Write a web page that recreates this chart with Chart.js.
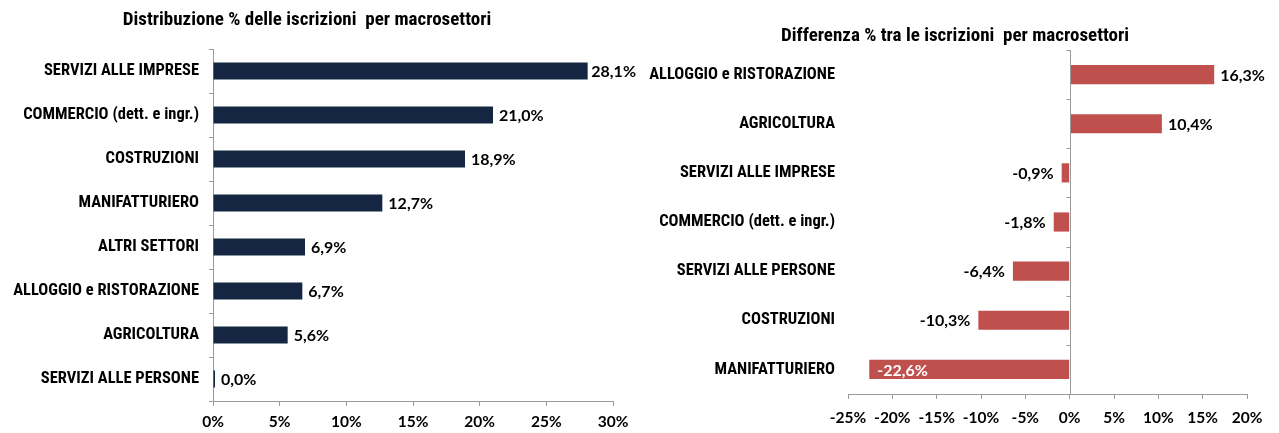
<!DOCTYPE html>
<html><head><meta charset="utf-8">
<script src="https://cdn.jsdelivr.net/npm/chart.js@4.4.1/dist/chart.umd.min.js"></script>
<style>
html,body{margin:0;padding:0;background:#fff;width:1279px;height:433px;overflow:hidden}
.box{position:absolute;top:0;height:433px}
#b1{left:0;width:640px}
#b2{left:640px;width:639px}
</style></head><body>
<div class="box" id="b1"><canvas id="c1"></canvas></div>
<div class="box" id="b2"><canvas id="c2"></canvas></div>
<script>
const leftTitle = "Distribuzione % delle iscrizioni  per macrosettori";
const leftCategories = ["SERVIZI ALLE IMPRESE","COMMERCIO (dett. e ingr.)","COSTRUZIONI","MANIFATTURIERO","ALTRI SETTORI","ALLOGGIO e RISTORAZIONE","AGRICOLTURA","SERVIZI ALLE PERSONE"];
const leftValues = [28.1, 21.0, 18.9, 12.7, 6.9, 6.7, 5.6, 0.0];
const leftAxis = {min:0, max:30, step:5};

const rightTitle = "Differenza % tra le iscrizioni  per macrosettori";
const rightCategories = ["ALLOGGIO e RISTORAZIONE","AGRICOLTURA","SERVIZI ALLE IMPRESE","COMMERCIO (dett. e ingr.)","SERVIZI ALLE PERSONE","COSTRUZIONI","MANIFATTURIERO"];
const rightValues = [16.3, 10.4, -0.9, -1.8, -6.4, -10.3, -22.6];
const rightAxis = {min:-25, max:20, step:5};

const NARROW = "'Liberation Sans Narrow','Arial Narrow','Roboto Condensed',sans-serif";
const NUMF = "Lato,'Open Sans',sans-serif";
const AXIS = "#9a9a9a";
const fmt = v => v.toFixed(1).replace('.',',') + '%';

function titlePlugin(text, cx, cy){
  return {id:'ttl', afterDraw(chart){
    const c = chart.ctx; c.save();
    c.font = "bold 19px " + NARROW; c.fillStyle = "#000";
    c.textAlign = 'center'; c.textBaseline = 'middle';
    c.fillText(text, cx, cy); c.restore();
  }};
}

const labelPlugin = {id:'vals', afterDatasetsDraw(chart){
  const c = chart.ctx, ca = chart.chartArea;
  const ds = chart.data.datasets[0];
  c.save();
  c.font = "bold 16px " + NUMF; c.textBaseline = 'middle';
  chart.getDatasetMeta(0).data.forEach((bar,i)=>{
    const v = ds.data[i]; const t = fmt(v); const w = c.measureText(t).width;
    if (v >= 0){
      let x = bar.x + 6;
      if (x + w > chart.width - 4) x = chart.width - 4 - w;
      c.fillStyle = '#000'; c.textAlign = 'left'; c.fillText(t, x, bar.y + 1);
    } else if (bar.x - 8 - w < ca.left){
      c.fillStyle = '#fff'; c.textAlign = 'left'; c.fillText(t, bar.x + 8, bar.y + 1);
    } else {
      c.fillStyle = '#000'; c.textAlign = 'right'; c.fillText(t, bar.x - 8, bar.y + 1);
    }
  });
  c.restore();
}};

const zeroAxisPlugin = {id:'zero', afterDatasetsDraw(chart){
  const c = chart.ctx, ca = chart.chartArea, xs = chart.scales.x, ys = chart.scales.y;
  const x0 = Math.round(xs.getPixelForValue(0)) + 0.5;
  c.save(); c.strokeStyle = AXIS; c.lineWidth = 1;
  c.beginPath(); c.moveTo(x0, ca.top); c.lineTo(x0, ca.bottom);
  const n = ys.ticks.length; const step = (ca.bottom - ca.top) / n;
  for (let k = 0; k <= n; k++){ const y = Math.round(ca.top + k*step) + 0.5; c.moveTo(x0 - 4, y); c.lineTo(x0, y); }
  c.stroke(); c.restore();
}};

function makeChart(id, cats, vals, ax, color, opts){
  return new Chart(document.getElementById(id), {
    type:'bar',
    data:{labels:cats, datasets:[{data:vals, backgroundColor:color, borderWidth:0, barPercentage:0.39, categoryPercentage:1, minBarLength: opts.minBar||0}]},
    options:{
      indexAxis:'y', responsive:true, maintainAspectRatio:false, animation:false,
      layout:{padding:{top:opts.top, right:opts.right, bottom:0, left:0}},
      plugins:{legend:{display:false}, tooltip:{enabled:false}, title:{display:false}},
      scales:{
        x:{min:ax.min, max:ax.max,
           ticks:{stepSize:ax.step, callback:v=>v+'%', color:'#000', font:{family:NUMF, size:15.5, weight:'bold'}, padding:opts.xpad, maxRotation:0},
           grid:{drawOnChartArea:false, tickLength:5, tickColor:AXIS, color:AXIS},
           border:{display:true, color:AXIS},
           afterFit:s=>{s.height = opts.xh;}},
        y:{ticks:{color:'#000', font:{family:NARROW, size:16.5, weight:'bold'}, padding:opts.ypad},
           grid:{display:opts.ygrid, drawOnChartArea:false, tickLength:4, color:AXIS, tickColor:AXIS, offset:true},
           border:{display:opts.ygrid, color:AXIS},
           afterFit:s=>{s.width = opts.yw;}}
      }
    },
    plugins: opts.plugins
  });
}

makeChart('c1', leftCategories, leftValues, leftAxis, '#142641',
  {top:49, right:27, xh:32, yw:213, xpad:7, ypad:10, ygrid:true, minBar:2,
   plugins:[labelPlugin, titlePlugin(leftTitle, 307, 20)]});
makeChart('c2', rightCategories, rightValues, rightAxis, '#C0504D',
  {top:50, right:32, xh:39, yw:208, xpad:10, ypad:9, ygrid:false,
   plugins:[zeroAxisPlugin, labelPlugin, titlePlugin(rightTitle, 315, 36)]});
</script>
</body></html>
